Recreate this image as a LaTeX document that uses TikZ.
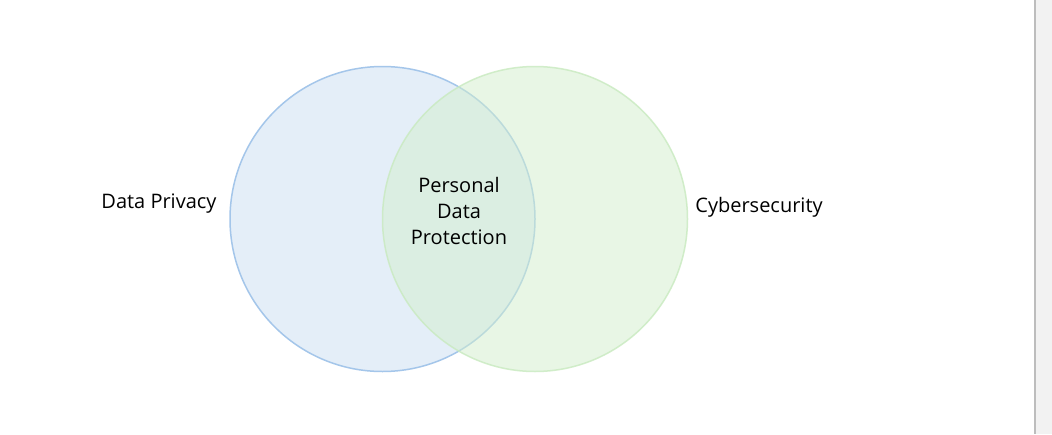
\documentclass[tikz,border=0pt]{standalone}
\usepackage{fontspec}
\setmainfont{Open Sans}
\usepackage{tikz}
\usetikzlibrary{calc}

\definecolor{privacyfill}{HTML}{E4EEF8}
\definecolor{privacyline}{HTML}{A4C6EA}
\definecolor{securityfill}{HTML}{D3EFCD}
\definecolor{securityline}{HTML}{C8EABF}
\definecolor{panelgray}{HTML}{F2F2F2}
\definecolor{panelline}{HTML}{BDBDBD}

\tikzset{
  label text/.style={font=\fontsize{20}{26}\selectfont, text=black, align=center, inner sep=0pt},
}

\begin{document}
\begin{tikzpicture}[x=1pt,y=-1pt]

\useasboundingbox (0,0) rectangle (1052,434);
\fill[white] (0,0) rectangle (1052,434);

% right-hand panel edge
\fill[panelgray] (1035,0) rectangle (1052,434);
\draw[panelline,line width=1.5pt] (1035,0) -- (1035,434);

\coordinate (P) at (382.5,219);
\coordinate (S) at (535,219);

\fill[privacyfill] (P) circle (152.5);
\draw[privacyline,line width=1.5pt] (P) circle (152.5);

\fill[securityfill,fill opacity=0.5] (S) circle (152.5);
\draw[securityline,line width=1.5pt,draw opacity=0.8] (S) circle (152.5);

\node[label text] at (159,204) (privacy) {Data Privacy};
\node[label text] at (759,207) (security) {Cybersecurity};
\node[label text] at (459,211) (overlap) {Personal\\Data\\Protection};
\end{tikzpicture}
\end{document}
